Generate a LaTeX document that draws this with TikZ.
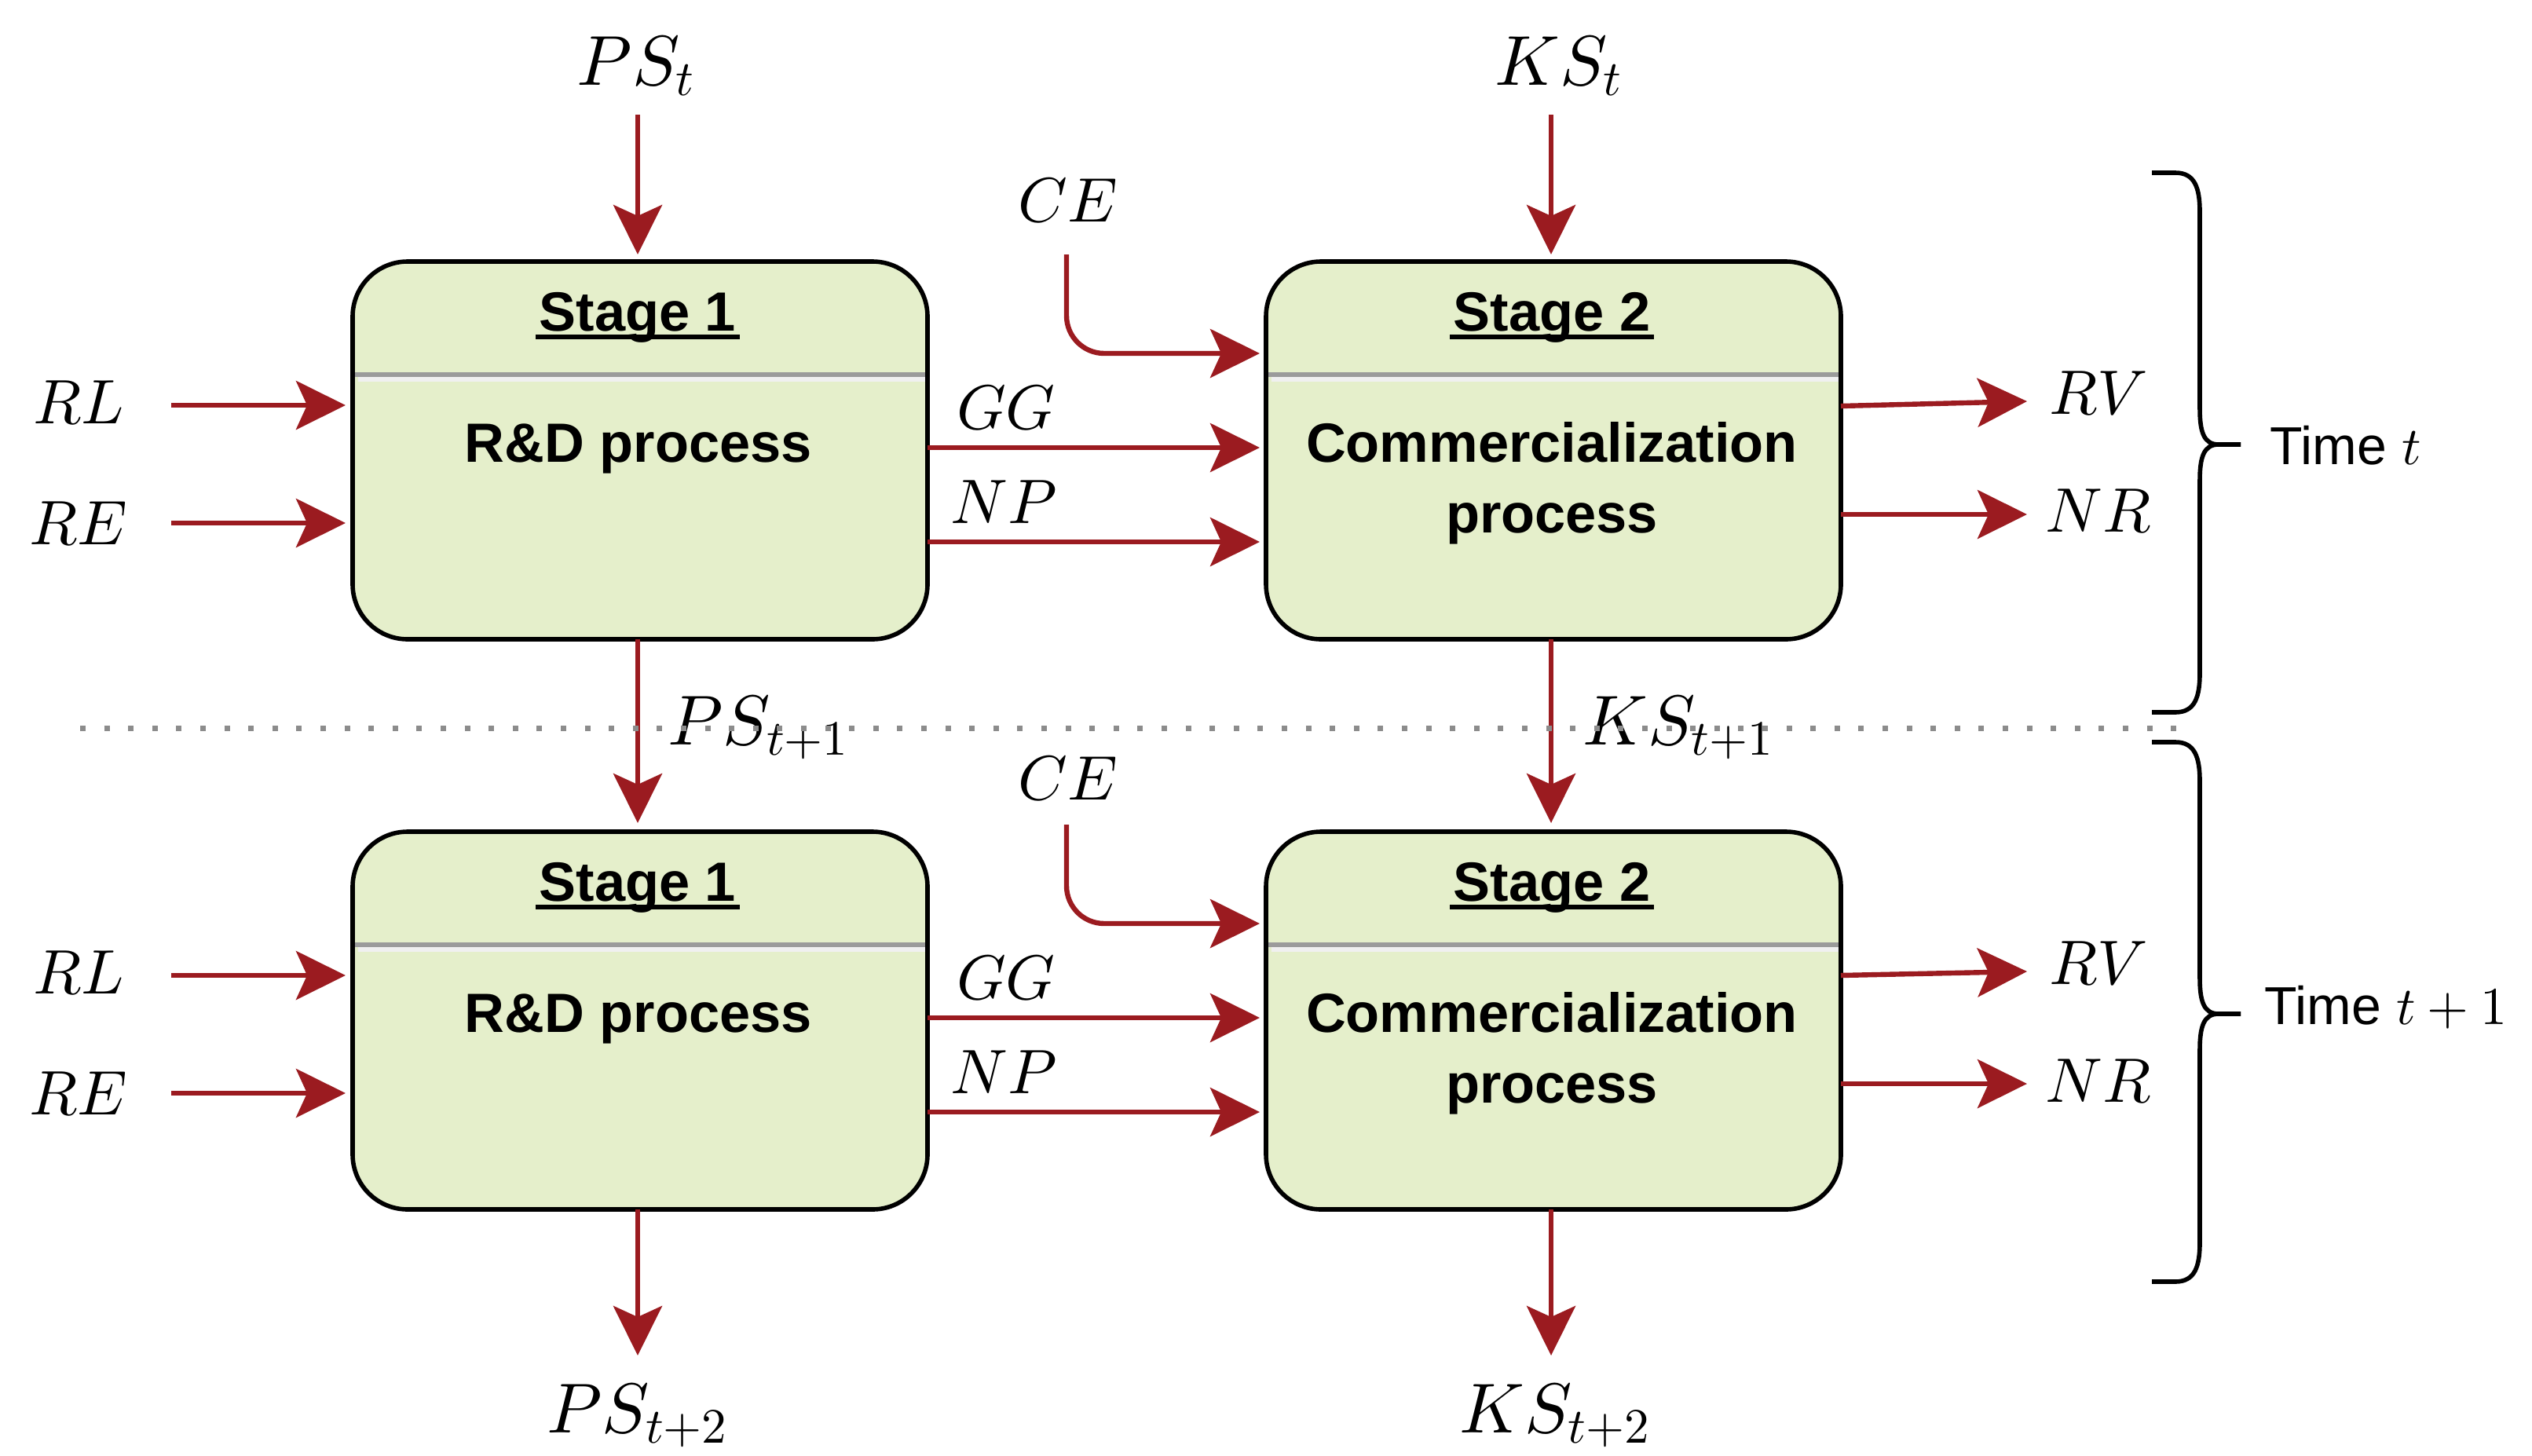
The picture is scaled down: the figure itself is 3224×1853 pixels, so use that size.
\RequirePackage{fix-cm}
\documentclass[tikz,border=0pt]{standalone}
\usepackage[no-math]{fontspec}
\newfontfamily\arialf{Liberation Sans}
\DeclareFontShape{OML}{cmm}{m}{it}{<->cmmi10}{}
\DeclareFontShape{OT1}{cmr}{m}{n}{<->cmr10}{}
\usetikzlibrary{arrows.meta,calc}
\definecolor{arrred}{RGB}{155,27,32}
\definecolor{boxfill}{RGB}{229,239,203}
\definecolor{sepgray}{RGB}{155,155,155}
\definecolor{seplight}{RGB}{240,240,240}
\definecolor{dotgray}{RGB}{140,140,140}
\begin{document}
\begin{tikzpicture}[x=0.25pt,y=-0.25pt,
  stagebox/.style={draw=black, line width=1.4pt, fill=boxfill, rounded corners=17.5pt,
    minimum width=183pt, minimum height=120.25pt, inner sep=0pt, outer sep=0pt},
  arr/.style={draw=arrred, line width=1.6pt, -{Stealth[length=15.75pt,width=15.5pt,inset=3.5pt]}},
  lab/.style={anchor=base, inner sep=0pt, font=\fontsize{20}{24}\selectfont},
  biglab/.style={anchor=base, inner sep=0pt, font=\fontsize{22.5}{27}\selectfont},
  boxtxt/.style={anchor=base, inner sep=0pt, font=\fontsize{17.6}{21}\selectfont\arialf\bfseries},
  timetxt/.style={anchor=base west, inner sep=0pt, font=\fontsize{17}{20}\selectfont\arialf},
  bracestyle/.style={draw=black, line width=1.4pt},
  ulstyle/.style={draw=black, line width=1.4pt},
]
\useasboundingbox (0,0) rectangle (3224,1853);

% boxes
\node[stagebox] (b1) at (815,573.5) {};
\node[stagebox] (b2) at (1978,573.5) {};
\node[stagebox] (b3) at (815,1299.5) {};
\node[stagebox] (b4) at (1978,1299.5) {};
\foreach \b in {b1,b2,b3,b4}{
  \fill[sepgray] ($(\b.north west)+(3,141)$) rectangle ($(\b.north east)+(-3,147)$);
  \fill[seplight] ($(\b.north west)+(7,147)$) rectangle ($(\b.north east)+(-3,153)$);
}

% box texts
\node[boxtxt] (s1) at (812,421) {Stage 1};
\node[boxtxt] (s2) at (1976,421) {Stage 2};
\node[boxtxt] (s3) at (812,1147) {Stage 1};
\node[boxtxt] (s4) at (1976,1147) {Stage 2};
\foreach \s in {s1,s2,s3,s4}{
  \draw[ulstyle] ($(\s.base west)+(-4,8)$) -- ($(\s.base east)+(4,8)$);
}
\node[boxtxt] (r1) at (813,588) {R\&D process};
\node[boxtxt] (c2a) at (1976,588) {Commercialization};
\node[boxtxt] (c2b) at (1976,678) {process};
\node[boxtxt] (r3) at (813,1314) {R\&D process};
\node[boxtxt] (c4a) at (1976,1314) {Commercialization};
\node[boxtxt] (c4b) at (1976,1404) {process};

% labels
\node[biglab] (pst) at (810,108) {$PS_t$};
\node[biglab] (kst) at (1985,108) {$KS_t$};
\node[lab] (ce1) at (1360,282) {$CE$};
\node[lab] (rl1) at (100,539) {$RL$};
\node[lab] (re1) at (100,693) {$RE$};
\node[lab] (gg1) at (1281,546) {$GG$};
\node[lab] (np1) at (1278,666) {$NP$};
\node[lab] (rv1) at (2672,527) {$RV$};
\node[lab] (nr1) at (2672,677) {$NR$};
\node[biglab] (ps2) at (966,948) {$PS_{t+1}$};
\node[biglab] (ks2) at (2137,948) {$KS_{t+1}$};
\node[lab] (ce2) at (1360,1018) {$CE$};
\node[lab] (rl2) at (100,1265) {$RL$};
\node[lab] (re2) at (100,1419) {$RE$};
\node[lab] (gg2) at (1281,1272) {$GG$};
\node[lab] (np2) at (1278,1392) {$NP$};
\node[lab] (rv2) at (2672,1253) {$RV$};
\node[lab] (nr2) at (2672,1403) {$NR$};
\node[biglab] (ps3) at (812,1824) {$PS_{t+2}$};
\node[biglab] (ks3) at (1980,1824) {$KS_{t+2}$};
\node[timetxt] (tt1) at (2890,591) {Time $t$};
\node[timetxt] (tt2) at (2883,1304) {Time $t+1$};

% coordinates
\coordinate (pcol) at (812,146);
\coordinate (kcol) at (1975,146);
\coordinate (rl1s) at (218,516);
\coordinate (re1s) at (218,666);
\coordinate (rl2s) at (218,1242);
\coordinate (re2s) at (218,1392);
\coordinate (gg1y) at (0,570);
\coordinate (np1y) at (0,690);
\coordinate (gg2y) at (0,1296);
\coordinate (np2y) at (0,1416);
\coordinate (ce1s) at (1358,324);
\coordinate (ce1y) at (0,450);
\coordinate (ce2s) at (1358,1050);
\coordinate (ce2y) at (0,1176);
\coordinate (rv1y) at (0,517);
\coordinate (rv1e) at (2581,511);
\coordinate (nr1y) at (0,655);
\coordinate (nr1e) at (2581,655);
\coordinate (rv2y) at (0,1242);
\coordinate (rv2e) at (2581,1237);
\coordinate (nr2y) at (0,1380);
\coordinate (nr2e) at (2581,1380);
\coordinate (ps3e) at (812,1726);
\coordinate (ks3e) at (1975,1726);
\coordinate (dls) at (102,927);
\coordinate (dle) at (2777,927);

% arrows row 1
\draw[arr, shorten >=2.25pt] (pcol) -- (pcol |- b1.north);
\draw[arr, shorten >=2.25pt] (kcol) -- (kcol |- b2.north);
\draw[arr, shorten >=2.25pt] (rl1s) -- (rl1s -| b1.west);
\draw[arr, shorten >=2.25pt] (re1s) -- (re1s -| b1.west);
\draw[arr, shorten >=2pt] (b1.east |- gg1y) -- (b2.west |- gg1y);
\draw[arr, shorten >=2pt] (b1.east |- np1y) -- (b2.west |- np1y);
\draw[arr, rounded corners=12pt, shorten >=2pt] (ce1s) |- (b2.west |- ce1y);
\draw[arr] (b2.east |- rv1y) -- (rv1e);
\draw[arr] (b2.east |- nr1y) -- (nr1e);

% vertical between rows
\draw[arr, shorten >=2.75pt] (pcol |- b1.south) -- (pcol |- b3.north);
\draw[arr, shorten >=2.75pt] (kcol |- b2.south) -- (kcol |- b4.north);

% arrows row 2
\draw[arr, shorten >=2.25pt] (rl2s) -- (rl2s -| b3.west);
\draw[arr, shorten >=2.25pt] (re2s) -- (re2s -| b3.west);
\draw[arr, shorten >=2pt] (b3.east |- gg2y) -- (b4.west |- gg2y);
\draw[arr, shorten >=2pt] (b3.east |- np2y) -- (b4.west |- np2y);
\draw[arr, rounded corners=12pt, shorten >=2pt] (ce2s) |- (b4.west |- ce2y);
\draw[arr] (b4.east |- rv2y) -- (rv2e);
\draw[arr] (b4.east |- nr2y) -- (nr2e);
\draw[arr] (pcol |- b3.south) -- (ps3e);
\draw[arr] (kcol |- b4.south) -- (ks3e);

% dotted separator
\draw[dotgray, line width=1.75pt, dash pattern=on 1.75pt off 5.9pt] (dls) -- (dle);

% braces
\draw[bracestyle] (2740,220) -- (2770,220) .. controls (2795,220) and (2801,240) .. (2801,270)
  -- (2801,520) .. controls (2801,550) and (2806,566) .. (2825,566) -- (2853,566);
\draw[bracestyle] (2853,566) -- (2825,566) .. controls (2806,566) and (2801,582) .. (2801,612)
  -- (2801,857) .. controls (2801,887) and (2795,907) .. (2770,907) -- (2740,907);
\draw[bracestyle] (2740,945) -- (2770,945) .. controls (2795,945) and (2801,965) .. (2801,995)
  -- (2801,1245) .. controls (2801,1275) and (2806,1291) .. (2825,1291) -- (2853,1291);
\draw[bracestyle] (2853,1291) -- (2825,1291) .. controls (2806,1291) and (2801,1307) .. (2801,1337)
  -- (2801,1582) .. controls (2801,1612) and (2795,1632) .. (2770,1632) -- (2740,1632);
\end{tikzpicture}
\end{document}
